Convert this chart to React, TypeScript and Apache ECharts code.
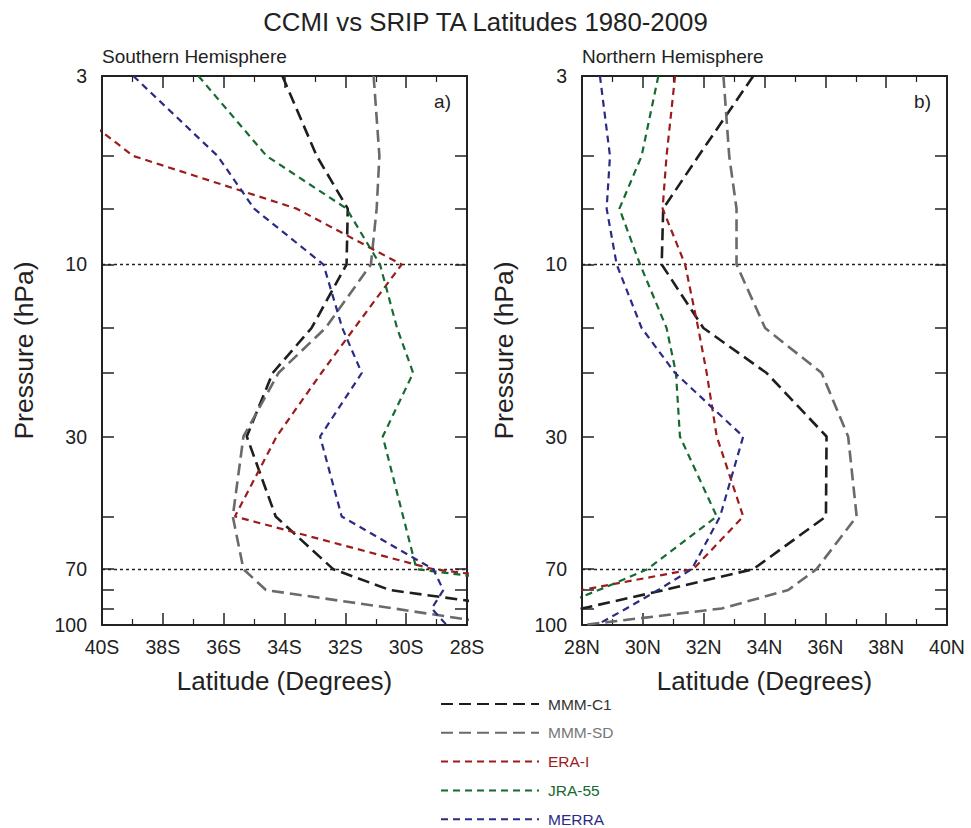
import React, { useEffect, useRef } from "react";
import * as echarts from "echarts";

// ---------- data ----------
const pressureLevels = [3, 5, 7, 10, 15, 20, 30, 50, 70, 80, 90, 100];
const pressureTicks = [3, 5, 7, 10, 15, 20, 30, 50, 70, 80, 90, 100];
const pressureLabels = [3, 10, 30, 70, 100];
const referenceLevels = [10, 70];
const seriesNames = ["MMM-C1", "MMM-SD", "ERA-I", "JRA-55", "MERRA"];

// Southern Hemisphere (negative = south)
const shMMMC1 = [-34.07, -32.94, -31.92, -31.96, -33.11, -34.39, -35.24, -34.29, -32.4, -30.53, -26.1, -25.0];
const shMMMSD = [-31.07, -30.88, -30.97, -31.16, -32.65, -34.2, -35.35, -35.7, -35.35, -34.61, -30.4, -26.8];
const shERAI = [-42.4, -38.97, -33.6, -30.15, -31.7, -32.79, -34.26, -35.63, -29.12, -23.7, null, null];
const shJRA55 = [-36.83, -34.59, -31.96, -30.86, -30.3, -29.77, -30.77, -30.1, -29.66, -24.2, null, null];
const shMERRA = [-38.97, -36.2, -35.0, -32.72, -32.1, -31.46, -32.83, -32.12, -29.11, -28.78, -29.16, -28.67];

// Northern Hemisphere
const nhMMMC1 = [33.63, 31.83, 30.67, 30.62, 31.99, 34.07, 36.04, 36.02, 33.63, 30.7, 28.0, 26.3];
const nhMMMSD = [32.65, 32.84, 33.08, 33.08, 34.02, 35.88, 36.75, 37.03, 35.71, 34.78, 32.59, 28.03];
const nhERAI = [31.06, 30.78, 30.65, 31.39, 31.82, 32.1, 32.43, 33.3, 31.66, 27.98, null, null];
const nhJRA55 = [30.51, 29.96, 29.23, 29.91, 30.78, 31.09, 31.22, 32.43, 30.15, 28.55, 27.0, null];
const nhMERRA = [28.59, 28.92, 28.81, 29.14, 29.96, 31.06, 33.3, 32.54, 31.61, 30.5, 29.46, 28.48];

const shData = [shMMMC1, shMMMSD, shERAI, shJRA55, shMERRA];
const nhData = [nhMMMC1, nhMMMSD, nhERAI, nhJRA55, nhMERRA];

// ---------- styles ----------
const FONT = "'Liberation Sans', Arial, Helvetica, sans-serif";
const INK = "#222";
const lineStyles: Record<string, any> = {
  "MMM-C1": { color: "#1e1e1e", width: 2.6, type: [12, 6] },
  "MMM-SD": { color: "#6a6a6a", width: 2.6, type: [12, 6] },
  "ERA-I": { color: "#9c1c1c", width: 2.2, type: [7, 5] },
  "JRA-55": { color: "#156a30", width: 2.2, type: [7, 5] },
  MERRA: { color: "#2b2b85", width: 2.2, type: [7, 5] },
};
const legendTextColors: Record<string, string> = {
  "MMM-C1": "#333",
  "MMM-SD": "#777",
  "ERA-I": "#9c1c1c",
  "JRA-55": "#156a30",
  MERRA: "#2b2b85",
};

function buildSeries(name: string, lats: (number | null)[], axisIdx: number, withRefs: boolean) {
  const data = pressureLevels
    .map((p, i) => [lats[i], p])
    .filter((d) => d[0] !== null && d[0] !== undefined);
  const st = lineStyles[name];
  const s: any = {
    type: "line",
    name,
    xAxisIndex: axisIdx,
    yAxisIndex: axisIdx,
    data,
    symbol: "none",
    showSymbol: false,
    clip: true,
    color: st.color,
    lineStyle: { color: st.color, width: st.width, type: st.type },
    z: 3,
  };
  if (withRefs) {
    s.markLine = {
      silent: true,
      symbol: "none",
      label: { show: false },
      lineStyle: { color: INK, width: 1.3, type: [3, 3] },
      data: referenceLevels.map((v) => ({ yAxis: v })),
      z: 2,
    };
  }
  return s;
}

function xAxes(gridIndex: number, min: number, max: number, fmt: (v: number) => string) {
  const common = {
    gridIndex,
    type: "value",
    min,
    max,
    interval: 2,
    splitLine: { show: false },
    axisLine: { show: true, onZero: false, lineStyle: { color: INK, width: 2 } },
    axisTick: { show: true, inside: true, length: 12, lineStyle: { color: INK, width: 1.5 } },
    minorTick: { show: true, splitNumber: 2, length: 6, lineStyle: { color: INK, width: 1.2 } },
  };
  return [
    {
      ...common,
      position: "bottom",
      name: "Latitude (Degrees)",
      nameLocation: "middle",
      nameGap: 43,
      nameTextStyle: { fontSize: 26, color: INK, fontFamily: FONT },
      axisLabel: { show: true, margin: 12, fontSize: 19.5, color: INK, fontFamily: FONT, formatter: fmt },
    },
    { ...common, position: "top", axisLabel: { show: false } },
  ];
}

function yAxes(gridIndex: number) {
  const common = {
    gridIndex,
    type: "log",
    logBase: 10,
    min: 3,
    max: 100,
    inverse: true,
    splitLine: { show: false },
    minorTick: { show: false },
    axisLine: { show: true, onZero: false, lineStyle: { color: INK, width: 2 } },
    axisTick: {
      show: true,
      inside: true,
      length: 12,
      customValues: pressureTicks,
      lineStyle: { color: INK, width: 1.5 },
    },
  };
  return [
    {
      ...common,
      position: "left",
      name: "Pressure (hPa)",
      nameLocation: "middle",
      nameGap: 65,
      nameTextStyle: { fontSize: 26.5, color: INK, fontFamily: FONT },
      axisLabel: {
        show: true,
        margin: 15,
        fontSize: 19.5,
        color: INK,
        fontFamily: FONT,
        customValues: pressureLabels,
        formatter: (v: number) => String(Math.round(v)),
      },
    },
    { ...common, position: "right", axisLabel: { show: false } },
  ];
}

export default function App() {
  const ref = useRef<HTMLDivElement>(null);
  useEffect(() => {
    if (!ref.current) return;
    const chart = echarts.init(ref.current, null, { renderer: "svg" });
    const series: any[] = [];
    seriesNames.forEach((n, i) => series.push(buildSeries(n, shData[i], 0, i === 0)));
    seriesNames.forEach((n, i) => series.push(buildSeries(n, nhData[i], 2, i === 0)));

    const option: any = {
      animation: false,
      backgroundColor: "#fff",
      textStyle: { fontFamily: FONT },
      title: [
        {
          text: "CCMI vs SRIP TA Latitudes 1980-2009",
          left: "center",
          top: 4,
          textStyle: { fontSize: 25.8, fontWeight: "normal", color: INK, fontFamily: FONT },
        },
        {
          text: "Southern Hemisphere",
          left: 97,
          top: 42,
          textStyle: { fontSize: 19, fontWeight: "normal", color: INK, fontFamily: FONT },
        },
        {
          text: "Northern Hemisphere",
          left: 577,
          top: 42,
          textStyle: { fontSize: 19, fontWeight: "normal", color: INK, fontFamily: FONT },
        },
        {
          text: "a)",
          right: 515,
          top: 87,
          textStyle: { fontSize: 19, fontWeight: "normal", color: INK, fontFamily: FONT },
        },
        {
          text: "b)",
          right: 35,
          top: 87,
          textStyle: { fontSize: 19, fontWeight: "normal", color: INK, fontFamily: FONT },
        },
      ],
      legend: {
        orient: "vertical",
        left: 440,
        top: 696,
        padding: 0,
        height: 132,
        itemWidth: 98,
        itemHeight: 14,
        itemGap: 12.8,
        selectedMode: false,
        itemStyle: { opacity: 0 },
        data: seriesNames.map((n) => ({
          name: n,
          textStyle: {
            color: legendTextColors[n],
            fontSize: 15.5,
            lineHeight: 14,
            fontFamily: FONT,
            padding: [0, 0, 0, 4],
          },
        })),
      },
      grid: [
        { left: 102, top: 76, width: 365, height: 549, containLabel: false },
        { left: 582, top: 76, width: 365, height: 549, containLabel: false },
      ],
      xAxis: [
        ...xAxes(0, -40, -28, (v: number) => `${Math.round(-v)}S`),
        ...xAxes(1, 28, 40, (v: number) => `${Math.round(v)}N`),
      ],
      yAxis: [...yAxes(0), ...yAxes(1)],
      series,
    };
    chart.setOption(option);
    return () => chart.dispose();
  }, []);
  return (
    <div
      ref={ref}
      style={{ position: "fixed", left: 0, top: 0, width: 971, height: 828, background: "#fff" }}
    />
  );
}
